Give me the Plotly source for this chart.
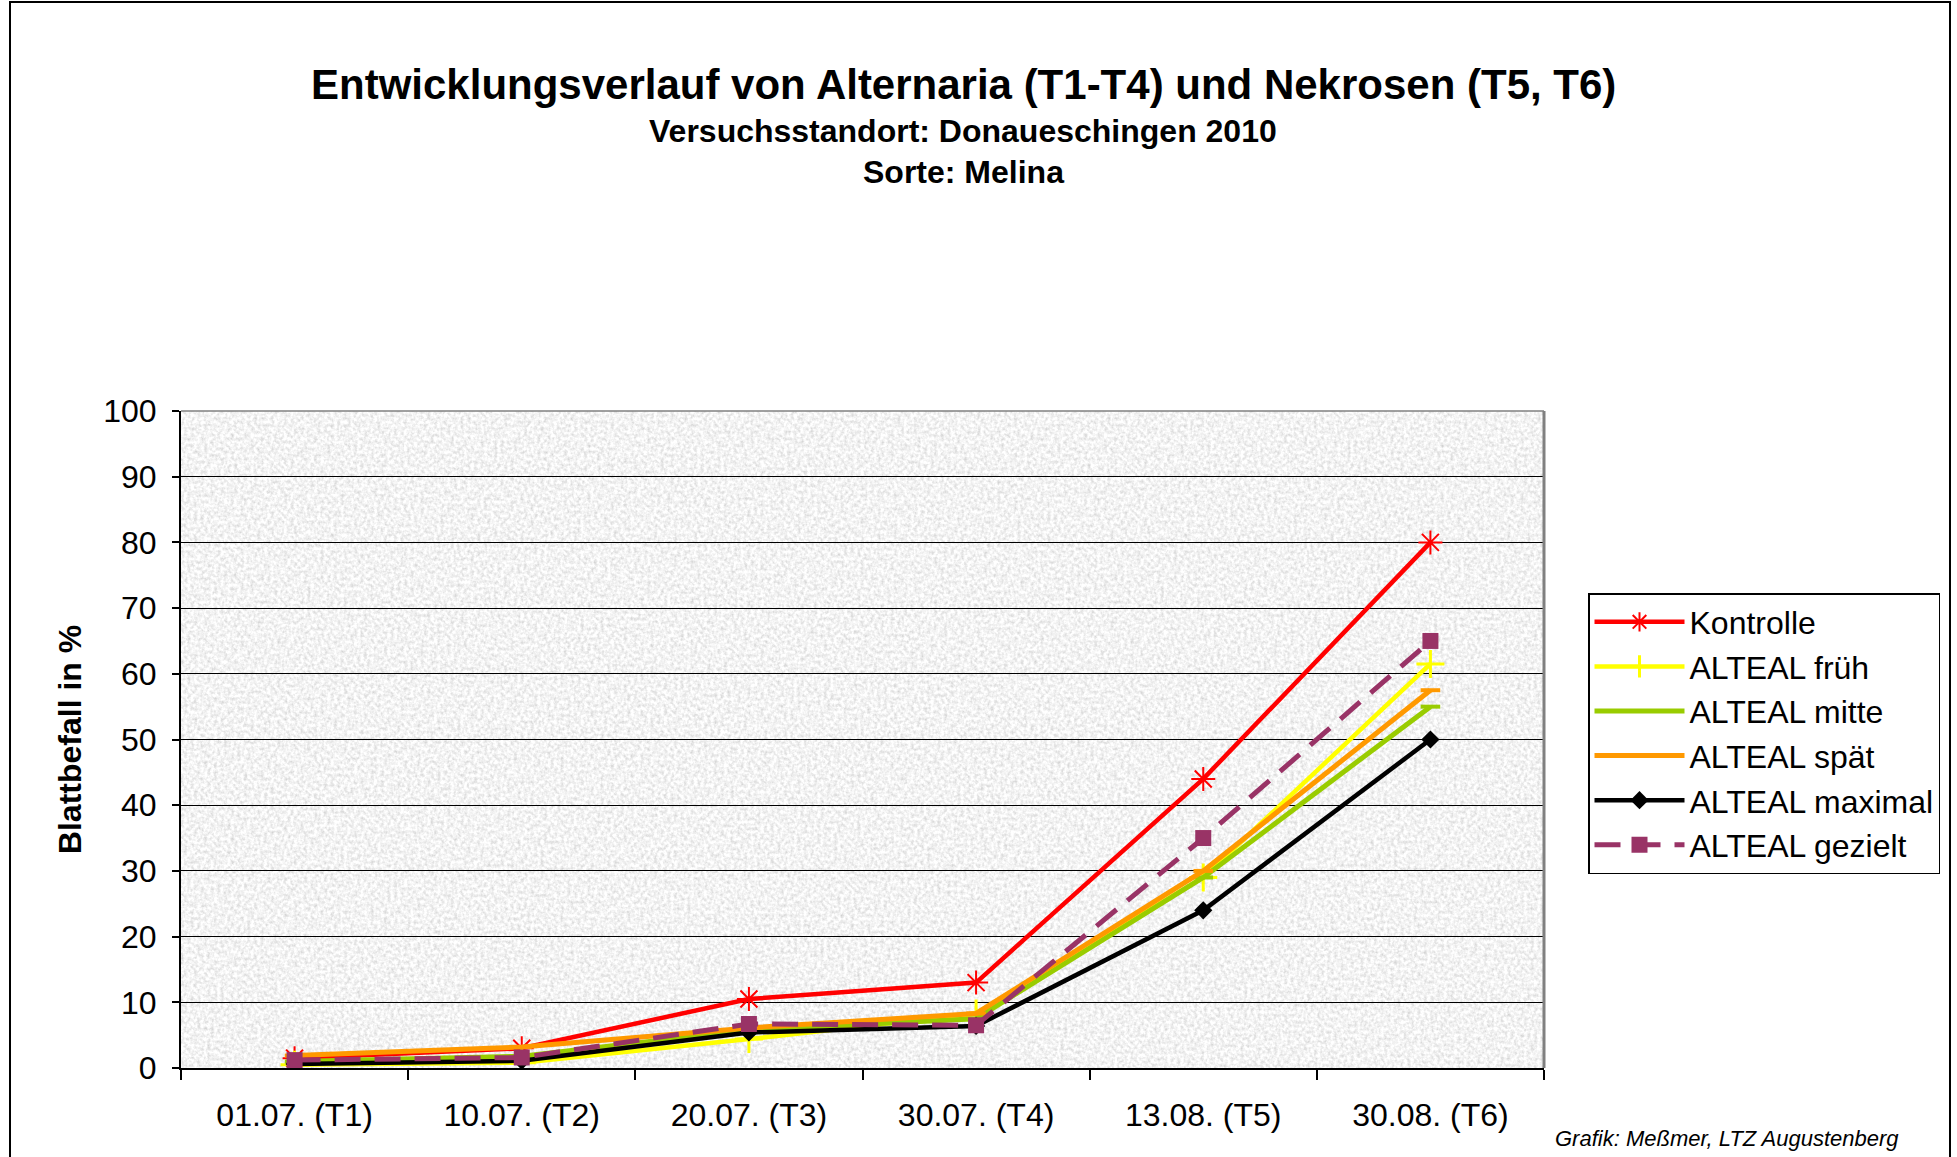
import base64
import plotly.graph_objects as go

categories = ["01.07. (T1)", "10.07. (T2)", "20.07. (T3)", "30.07. (T4)", "13.08. (T5)", "30.08. (T6)"]
kontrolle = [1.5, 3.0, 10.5, 13.0, 44.0, 80.0]
alteal_frueh = [0.5, 0.8, 4.4, 8.3, 29.0, 61.5]
alteal_mitte = [1.0, 1.8, 5.8, 7.5, 29.0, 55.0]
alteal_spaet = [1.9, 3.2, 6.1, 8.3, 30.0, 57.5]
alteal_maximal = [0.6, 1.1, 5.4, 6.4, 24.0, 50.0]
alteal_gezielt = [1.2, 1.6, 6.7, 6.5, 35.0, 65.0]

W, H = 1957, 1157
L, R, T, B = 181, 1544, 411, 1068
FONT = "Arial, Liberation Sans, sans-serif"

def px_x(x):
    return (x - L) / (R - L)

def px_y(y):
    return (B - y) / (B - T)

fig = go.Figure()

series = [
    ("Kontrolle", kontrolle, "#FF0000", "solid", 4.5, dict(symbol="asterisk-open", size=20, line=dict(color="#FF0000", width=2))),
    ("ALTEAL früh", alteal_frueh, "#FFFF00", "solid", 4.5, dict(symbol="cross-thin-open", size=20, line=dict(color="#FFFF00", width=3))),
    ("ALTEAL mitte", alteal_mitte, "#99CC00", "solid", 5, dict(symbol="line-ew-open", size=14, line=dict(color="#99CC00", width=4))),
    ("ALTEAL spät", alteal_spaet, "#FF9900", "solid", 5, dict(symbol="line-ew-open", size=14, line=dict(color="#FF9900", width=4))),
    ("ALTEAL maximal", alteal_maximal, "#000000", "solid", 4.5, dict(symbol="diamond", size=14, color="#000000")),
    ("ALTEAL gezielt", alteal_gezielt, "#993366", "26px,14px", 5, dict(symbol="square", size=16, color="#993366")),
]

for name, vals, color, dash, width, marker in series:
    fig.add_trace(go.Scatter(
        x=categories, y=vals, name=name, mode="lines+markers",
        line=dict(color=color, width=width, dash=dash),
        marker=marker,
    ))

# granite-like background texture (decorative only)
svg = (
    "<svg xmlns='http://www.w3.org/2000/svg' width='1363' height='657'>"
    "<filter id='n' x='0' y='0' width='100%' height='100%'>"
    "<feTurbulence type='fractalNoise' baseFrequency='0.3' numOctaves='3' seed='3'/>"
    "<feColorMatrix type='matrix' values='0.6 0 0 0 0.6  0.6 0 0 0 0.6  0.6 0 0 0 0.6  0 0 0 0 1'/>"
    "</filter>"
    "<rect width='100%' height='100%' filter='url(#n)'/>"
    "</svg>"
)
src = "data:image/svg+xml;base64," + base64.b64encode(svg.encode()).decode()
fig.add_layout_image(dict(source=src, xref="paper", yref="paper", x=0, y=1, sizex=1, sizey=1,
                          xanchor="left", yanchor="top", sizing="stretch", layer="below", opacity=1))

fig.update_layout(
    width=W, height=H,
    margin=dict(l=L, r=W - R, t=T, b=H - B, pad=0),
    paper_bgcolor="white",
    plot_bgcolor="#e4e4e4",
    font=dict(family=FONT, color="black", size=32),
    showlegend=True,
    legend=dict(
        x=px_x(1588), y=px_y(593), xanchor="left", yanchor="top",
        bordercolor="black", borderwidth=1.5, bgcolor="white",
        font=dict(family=FONT, size=32, color="black"),
        tracegroupgap=0, itemwidth=90,
    ),
    xaxis=dict(
        type="category", range=[-0.5, 5.5], tickson="boundaries",
        ticks="outside", ticklen=10, tickcolor="black", tickwidth=1.5,
        showline=True, linecolor="black", linewidth=2,
        showgrid=False, zeroline=False,
        tickfont=dict(family=FONT, size=32, color="black"),
        ticklabelstandoff=18,
    ),
    yaxis=dict(
        range=[0, 100], dtick=10, tick0=0,
        ticks="outside", ticklen=7, tickcolor="black", tickwidth=1.5,
        showline=True, linecolor="black", linewidth=2,
        showgrid=True, gridcolor="black", gridwidth=1,
        zeroline=False,
        tickfont=dict(family=FONT, size=32, color="black"),
        ticklabelstandoff=9,
        title=dict(text="<b>Blattbefall in %</b>", font=dict(family=FONT, size=32, color="black"), standoff=12),
    ),
)

# right / top frame of the plot area (gray)
fig.add_shape(type="line", xref="paper", yref="paper", x0=1, x1=1, y0=0, y1=1,
              line=dict(color="#808080", width=3))
fig.add_shape(type="line", xref="paper", yref="paper", x0=0, x1=1, y0=1, y1=1,
              line=dict(color="#808080", width=1.5))

# outer chart border
fig.add_shape(type="rect", xref="paper", yref="paper",
              x0=px_x(10), x1=px_x(1950), y0=px_y(1175), y1=px_y(2),
              line=dict(color="black", width=2), fillcolor="rgba(0,0,0,0)", layer="below")

fig.add_annotation(text="<b>Entwicklungsverlauf von Alternaria (T1-T4) und Nekrosen (T5, T6)</b>",
                   xref="paper", yref="paper", x=px_x(963), y=px_y(84), showarrow=False,
                   xanchor="center", yanchor="middle", font=dict(family=FONT, size=42, color="black"))
fig.add_annotation(text="<b>Versuchsstandort: Donaueschingen 2010</b>",
                   xref="paper", yref="paper", x=px_x(963), y=px_y(131), showarrow=False,
                   xanchor="center", yanchor="middle", font=dict(family=FONT, size=32, color="black"))
fig.add_annotation(text="<b>Sorte: Melina</b>",
                   xref="paper", yref="paper", x=px_x(963), y=px_y(172), showarrow=False,
                   xanchor="center", yanchor="middle", font=dict(family=FONT, size=32, color="black"))
fig.add_annotation(text="<i>Grafik: Meßmer, LTZ Augustenberg</i>",
                   xref="paper", yref="paper", x=px_x(1553), y=px_y(1138), showarrow=False,
                   xanchor="left", yanchor="middle", font=dict(family=FONT, size=22, color="black"))

fig.write_html("out.html", config={"displayModeBar": False},
               post_script="document.body.style.margin='0px';document.body.style.overflow='hidden';")
